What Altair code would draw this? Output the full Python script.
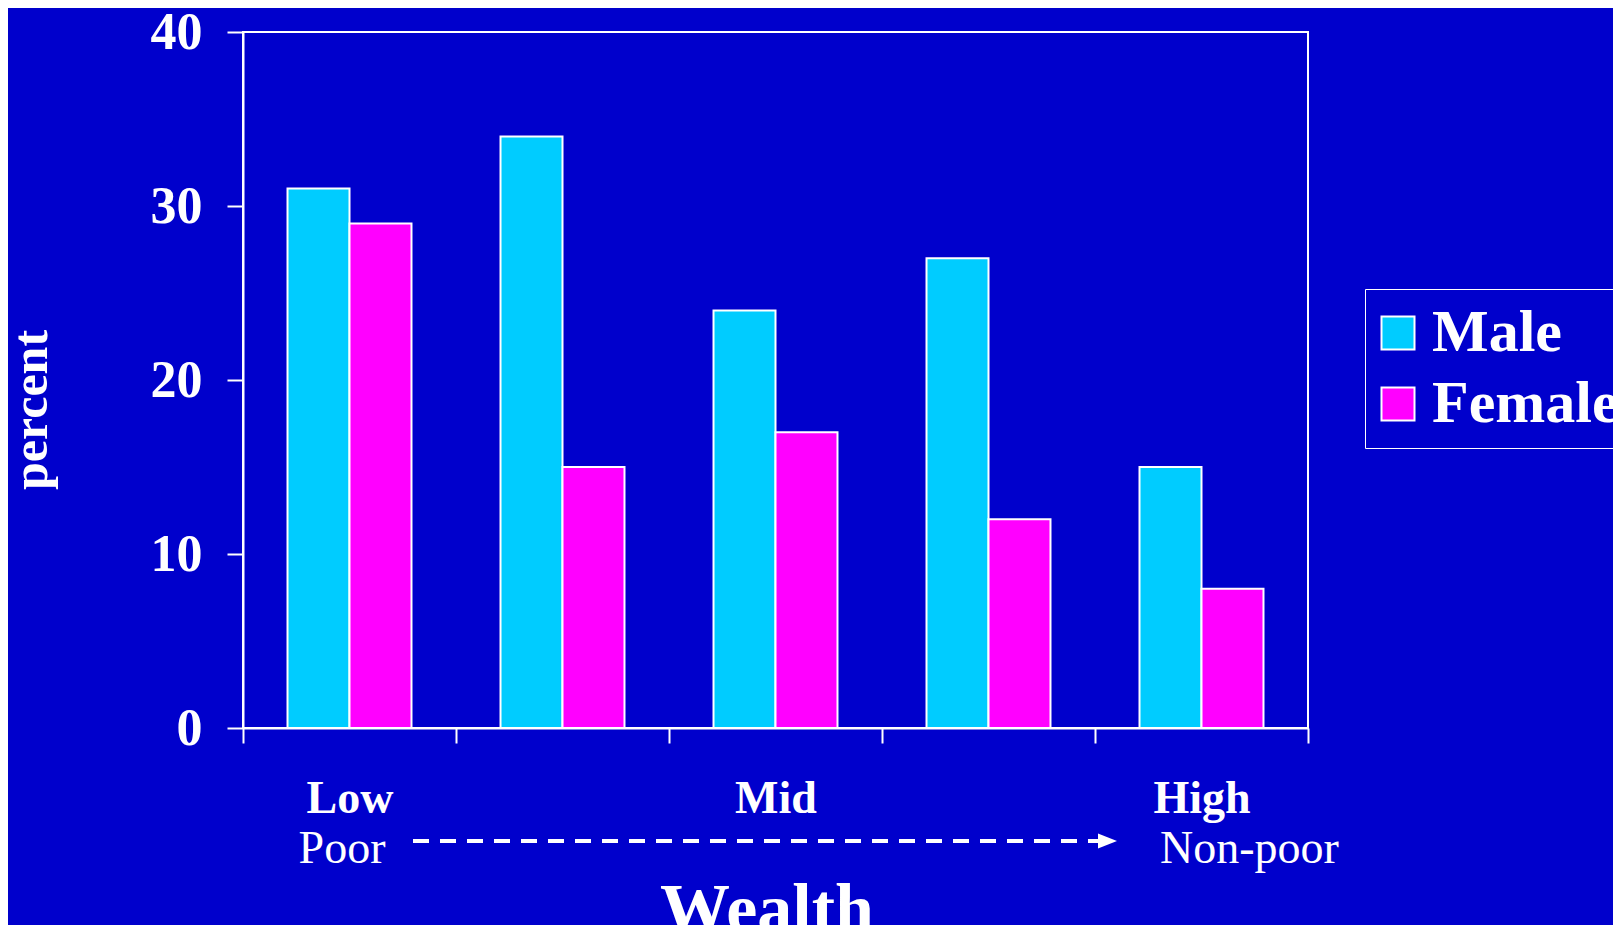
import altair as alt
import pandas as pd

quintiles = ["Q1", "Q2", "Q3", "Q4", "Q5"]
tick_labels = ["Low", "", "Mid", "", "High"]
sexes = ["Male", "Female"]
male = [31, 34, 24, 27, 15]
female = [29, 15, 17, 12, 8]
y_ticks = [0, 10, 20, 30, 40]

colors = ["#00CCFF", "#FF00FF"]
bg = "#0000CC"
FONT = "Liberation Serif"

rows = []
for q, m, f in zip(quintiles, male, female):
    rows.append({"quintile": q, "sex": "Male", "percent": m})
    rows.append({"quintile": q, "sex": "Female", "percent": f})
df = pd.DataFrame(rows)

# label expression built from the tick label list
expr = "''"
for q, lab in reversed(list(zip(quintiles, tick_labels))):
    expr = f"datum.value == '{q}' ? '{lab}' : ({expr})"

W, H = 1065, 696

bars = alt.Chart(df).mark_bar(stroke="white", strokeWidth=2).encode(
    x=alt.X("quintile:N", sort=quintiles,
            scale=alt.Scale(domain=quintiles, paddingInner=0, paddingOuter=0),
            axis=alt.Axis(title=None, labelAngle=0, labelExpr=expr, tickBand="extent",
                          tickSize=15, tickWidth=2, tickColor="white",
                          labelFont=FONT, labelFontSize=46, labelFontWeight="bold",
                          labelColor="white", labelPadding=33, domainColor="white",
                          domainWidth=2)),
    xOffset=alt.XOffset("sex:N", sort=sexes,
                        scale=alt.Scale(domain=sexes, paddingInner=0, paddingOuter=0.718)),
    y=alt.Y("percent:Q", scale=alt.Scale(domain=[0, 40], nice=False),
            axis=alt.Axis(title=None, values=y_ticks, tickSize=16, tickWidth=2,
                          tickColor="white", labelFont=FONT, labelFontSize=52,
                          labelFontWeight="bold", labelColor="white", labelPadding=25,
                          domainColor="white", domainWidth=2, grid=False)),
    color=alt.Color("sex:N", sort=sexes,
                    scale=alt.Scale(domain=sexes, range=colors),
                    legend=alt.Legend(title=None, orient="none", legendX=1122, legendY=257,
                                      symbolType="square", symbolSize=1089,
                                      symbolStrokeColor="white", symbolStrokeWidth=2,
                                      symbolOpacity=1, symbolOffset={"expr": "-11"},
                                      labelFont=FONT, labelFontSize=60,
                                      labelFontWeight="bold", labelColor="white",
                                      labelOffset=4, rowPadding=11, padding=14,
                                      strokeColor="white", fillColor=bg,
                                      labelLimit=400)),
)

one = pd.DataFrame({"k": [0]})

poor = alt.Chart(one).mark_text(font=FONT, fontSize=46, color="white", align="center",
                                baseline="alphabetic").encode(
    x=alt.value(99), y=alt.value(831), text=alt.value("Poor"))
nonpoor = alt.Chart(one).mark_text(font=FONT, fontSize=46, color="white", align="left",
                                   baseline="alphabetic").encode(
    x=alt.value(917), y=alt.value(831), text=alt.value("Non-poor"))
arrow_line = alt.Chart(one).mark_rule(color="white", strokeWidth=4, strokeDash=[16, 11]).encode(
    x=alt.value(170), x2=alt.value(857), y=alt.value(809))
arrow_head = alt.Chart(one).mark_point(shape="M-1,-0.79L1,0L-1,0.79Z", filled=True,
                                       color="white", size=361, opacity=1).encode(
    x=alt.value(864.5), y=alt.value(809))
wealth = alt.Chart(one).mark_text(font=FONT, fontSize=70, fontWeight="bold", color="white",
                                  align="center", baseline="alphabetic").encode(
    x=alt.value(524), y=alt.value(900), text=alt.value("Wealth"))
percent_t = alt.Chart(one).mark_text(font=FONT, fontSize=50, fontWeight="bold", color="white",
                                     align="center", baseline="middle", angle=270).encode(
    x=alt.value(-211), y=alt.value(378), text=alt.value("percent"))

chart = alt.layer(bars, arrow_line, arrow_head, poor, nonpoor, wealth, percent_t).properties(
    width=W, height=H,
    background=bg,
    autosize=alt.AutoSizeParams(type="none"),
    padding={"left": 235, "top": 24, "right": 305, "bottom": 197},
).configure_view(stroke="white", strokeWidth=2, fill=bg)

chart.save("out.html", embed_options={"renderer": "svg", "actions": False})
